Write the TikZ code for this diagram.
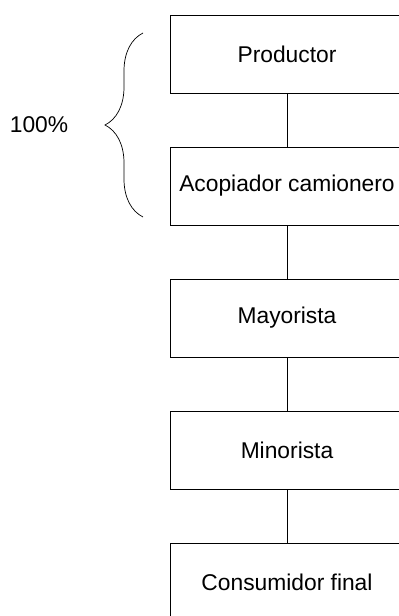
\documentclass[tikz,border=0pt]{standalone}
\usepackage{fontspec}
\setmainfont{Liberation Sans}
\usetikzlibrary{positioning,decorations.pathreplacing}

\begin{document}
\begin{tikzpicture}[x=1pt,y=-1pt,line width=1pt,
    etapa/.style={draw,minimum width=234pt,minimum height=78pt,inner sep=0pt,
      font=\fontsize{22.8}{27}\selectfont},
    node distance=53pt]
        \clip (0,0) rectangle (399,616);
        \node[etapa] (prod) at (287,54) {Productor};
        \node[etapa,below=of prod] (acop) {Acopiador camionero};
        \node[etapa,below=of acop] (mayo) {Mayorista};
        \node[etapa,below=of mayo] (mino) {Minorista};
        \node[etapa,below=53pt of mino,minimum height=79pt] (cons) {Consumidor final};
        \draw (prod) -- (acop);
        \draw (acop) -- (mayo);
        \draw (mayo) -- (mino);
        \draw (mino) -- (cons);
        % llave del porcentaje
        \coordinate (bb) at (143,217);
        \coordinate (bt) at (143,33);
        \draw[line width=0.7pt,decorate,decoration={brace,amplitude=38pt}] (bb) -- (bt);
        \node[font=\fontsize{22.8}{27}\selectfont] (pct) at (39,125) {100\%};
      \end{tikzpicture}
\end{document}
